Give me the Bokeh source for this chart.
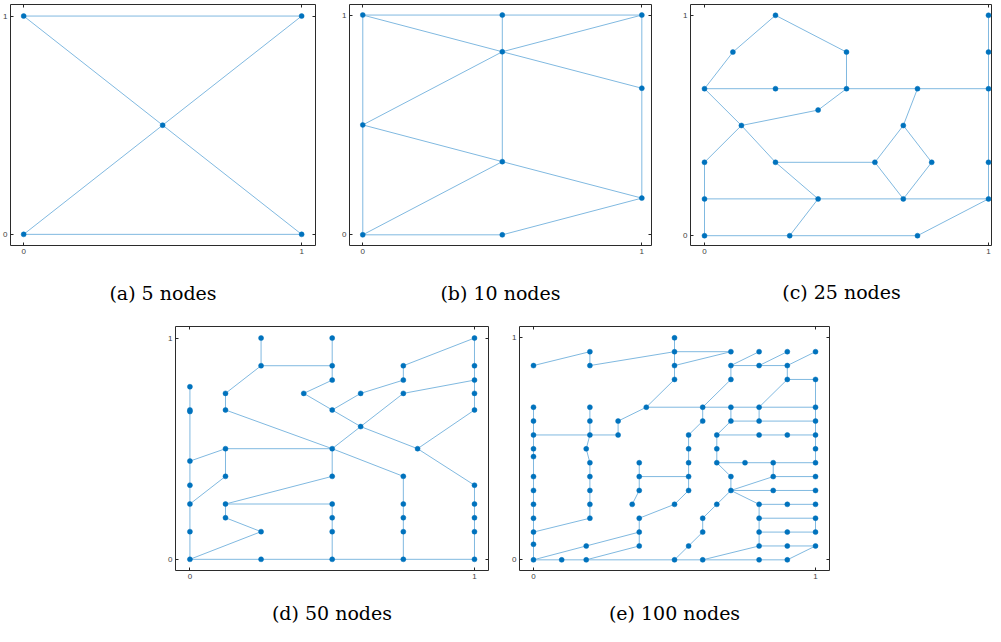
from bokeh.plotting import figure
from bokeh.models import LinearAxis, FixedTicker, Range1d, Spacer
from bokeh.layouts import row, column
from bokeh.embed import file_html
from bokeh.resources import INLINE

# ---------------- data ----------------
TICKS = [0, 1]
CAPTIONS = ["(a) 5 nodes", "(b) 10 nodes", "(c) 25 nodes", "(d) 50 nodes", "(e) 100 nodes"]

# edges given as paths through node coordinates
A_PATHS = [
    [(0, 1), (1, 1)],
    [(0, 0), (1, 0)],
    [(0, 1), (0.5, 0.5), (1, 0)],
    [(0, 0), (0.5, 0.5), (1, 1)],
]

B_PATHS = [
    [(0, 1), (0.5, 1), (1, 1)],
    [(0, 1), (0, 0.5), (0, 0)],
    [(0, 1), (0.5, 0.833), (1, 0.667)],
    [(0.5, 1), (0.5, 0.833), (0.5, 0.333)],
    [(0, 0.5), (0.5, 0.833), (1, 1)],
    [(0, 0.5), (0.5, 0.333), (1, 0.167)],
    [(0, 0), (0.5, 0.333)],
    [(0, 0), (0.5, 0), (1, 0.167)],
    [(1, 1), (1, 0.667), (1, 0.167)],
]

C_PATHS = [
    [(0, .667), (.1, .833), (.25, 1), (.5, .833), (.5, .667)],
    [(0, .667), (.25, .667), (.5, .667), (.75, .667), (1, .667)],
    [(1, 1), (1, .833), (1, .667), (1, .333), (1, .167)],
    [(.5, .667), (.4, .57), (.13, .5)],
    [(0, .667), (.13, .5), (.25, .333), (.4, .167)],
    [(.13, .5), (0, .333), (0, .167), (0, 0)],
    [(.25, .333), (.6, .333)],
    [(.6, .333), (.7, .5), (.8, .333), (.7, .167), (.6, .333)],
    [(.7, .5), (.75, .667)],
    [(0, .167), (.4, .167), (.7, .167), (1, .167)],
    [(.4, .167), (.3, 0)],
    [(0, 0), (.3, 0), (.75, 0), (1, .167)],
]

D_PATHS = [
    [(0, .78), (0, .675), (0, .668), (0, .444), (0, .335), (0, .25), (0, .125), (0, 0)],
    [(0, .444), (.125, .5), (.5, .5)],
    [(.125, .5), (.125, .375), (0, .25)],
    [(.125, .675), (.125, .75), (.25, .875), (.25, 1)],
    [(.125, .675), (.5, .5)],
    [(.25, .875), (.5, .875), (.5, 1)],
    [(.5, .875), (.5, .81), (.4, .75), (.5, .675)],
    [(.5, .675), (.6, .75), (.75, .81), (.75, .875), (1, 1)],
    [(.5, .675), (.6, .6), (.8, .5), (1, .335)],
    [(.8, .5), (1, .675)],
    [(.5, .5), (.6, .6), (.75, .75), (1, .81)],
    [(.5, .5), (.75, .375)],
    [(.5, .5), (.5, .375), (.125, .25), (.5, .25)],
    [(.125, .25), (.125, .188), (.25, .125), (0, 0)],
    [(.5, .25), (.5, .188), (.5, .125), (.5, 0)],
    [(.75, .375), (.75, .25), (.75, .188), (.75, .125), (.75, 0)],
    [(1, .335), (1, .25), (1, .188), (1, .125), (1, 0)],
    [(1, 1), (1, .875), (1, .81), (1, .75), (1, .675)],
    [(0, 0), (.25, 0), (.5, 0), (.75, 0), (1, 0)],
]

E_PATHS = [
    [(0, .875), (.2, .9375), (.2, .875), (.5, .9375)],
    [(.5, 1), (.5, .9375), (.5, .875), (.5, .8125), (.4, .6875), (.3, .625), (.3, .5625)],
    [(.5, .9375), (.7, .9375)],
    [(.5, .875), (.7, .9375)],
    [(.4, .6875), (.6, .6875), (.7, .6875), (.8, .6875), (1, .6875)],
    [(0, .5625), (.2, .5625), (.3, .5625)],
    [(0, .6875), (0, .625), (0, .5625), (0, .5), (0, .465), (0, .375), (0, .3125), (0, .25),
     (0, .1875), (0, .125), (0, .07), (0, 0)],
    [(.2, .6875), (.2, .625), (.2, .5625), (.187, .5), (.2, .4375), (.2, .375), (.2, .3125),
     (.2, .25), (.2, .1875), (0, .125)],
    [(0, 0), (.187, .0625), (.375, .125)],
    [(.187, 0), (.375, .0625)],
    [(.375, .4375), (.375, .375), (.375, .3125), (.35, .25)],
    [(.375, .0625), (.375, .125), (.375, .1875), (.5, .25), (.55, .3125), (.55, .375),
     (.55, .4375), (.55, .5), (.55, .5625), (.6, .625), (.6, .6875), (.7, .8125), (.7, .875),
     (.8, .9375)],
    [(.375, .375), (.55, .375)],
    [(.7, .875), (.8, .875), (.9, .875), (1, .9375)],
    [(.8, .875), (.9, .9375)],
    [(.9, .875), (.9, .8125), (1, .8125), (1, .6875), (1, .625), (1, .5625), (1, .5), (1, .4375)],
    [(.7, .6875), (.7, .625), (.65, .5625), (.65, .5), (.65, .4375), (.7, .375), (.7, .3125)],
    [(.7, .625), (.8, .625), (1, .625)],
    [(.8, .6875), (.9, .8125)],
    [(.8, .6875), (.8, .625)],
    [(.65, .5625), (.8, .5625), (.9, .5625), (1, .5625)],
    [(.65, .4375), (.75, .4375), (.85, .4375), (1, .4375)],
    [(.85, .4375), (.85, .375), (1, .375)],
    [(.85, .375), (.7, .3125)],
    [(.7, .3125), (.85, .3125), (1, .3125)],
    [(.7, .3125), (.8, .25), (.9, .25), (1, .25)],
    [(.7, .3125), (.65, .25), (.6, .1875), (.6, .125), (.55, .0625), (.5, 0)],
    [(.8, .25), (.8, .1875), (.8, .125), (.8, .0625)],
    [(.8, .1875), (1, .1875), (1, .125)],
    [(.8, .125), (.9, .125), (1, .125)],
    [(.8, .0625), (.9, .0625), (1, .0625)],
    [(.8, .0625), (.6, 0)],
    [(.9, 0), (1, .0625)],
    [(0, 0), (.1, 0), (.187, 0), (.5, 0), (.6, 0), (.8, 0), (.9, 0)],
]

# ---------------- style ----------------
EDGE_COLOR = "#80b9e0"
NODE_COLOR = "#0072bd"
FRAME_COLOR = "#2b2b2b"
TICK_COLOR = "#262626"
LABEL_COLOR = "#404040"
CAPTION_FONT = "DejaVu Serif"


def make_panel(paths, caption, width, height, borders, xr, yr, right_ticks=True, cap_standoff=21):
    left, right, top, bottom = borders
    p = figure(width=width, height=height, output_backend="svg", toolbar_location=None,
               x_range=Range1d(*xr), y_range=Range1d(*yr), x_axis_type=None, y_axis_type=None,
               min_border_left=left, min_border_right=right, min_border_top=top,
               min_border_bottom=bottom, title=None)
    p.outline_line_color = FRAME_COLOR
    p.outline_line_width = 1
    p.background_fill_color = "white"
    p.border_fill_color = "white"

    xs = [[pt[0] for pt in path] for path in paths]
    ys = [[pt[1] for pt in path] for path in paths]
    p.multi_line(xs, ys, line_color=EDGE_COLOR, line_width=1)
    nodes = sorted(set(pt for path in paths for pt in path))
    p.scatter([n[0] for n in nodes], [n[1] for n in nodes], size=5,
              fill_color=NODE_COLOR, line_color=NODE_COLOR, line_width=0.5)

    def style(ax, tin, tout, labels=True):
        ax.ticker = FixedTicker(ticks=TICKS)
        ax.minor_tick_line_color = None
        ax.axis_line_color = None
        ax.major_tick_in = tin
        ax.major_tick_out = tout
        ax.major_tick_line_color = TICK_COLOR
        ax.major_tick_line_width = 1
        if labels:
            ax.major_label_text_font = "Liberation Sans"
            ax.major_label_text_font_size = "8px"
            ax.major_label_text_color = LABEL_COLOR
            ax.major_label_standoff = 3
        else:
            ax.major_label_text_color = None
            ax.major_label_standoff = 0

    xb = LinearAxis()
    style(xb, 3, 0)
    xb.axis_label = caption
    xb.axis_label_text_font = CAPTION_FONT
    xb.axis_label_text_font_size = "19px"
    xb.axis_label_text_font_style = "normal"
    xb.axis_label_text_color = "black"
    xb.axis_label_standoff = cap_standoff
    p.add_layout(xb, "below")

    xt = LinearAxis(fixed_location=yr[1])
    style(xt, 0, 3, labels=False)
    p.add_layout(xt, "below")

    yl = LinearAxis()
    style(yl, 3, 0)
    p.add_layout(yl, "left")

    if right_ticks:
        yrt = LinearAxis(fixed_location=xr[1])
        style(yrt, 0, 3, labels=False)
        p.add_layout(yrt, "left")
    return p


fa = make_panel(A_PATHS, CAPTIONS[0], 332, 310, (7, 17, 1, 65),
                (-0.0474, 1.0499), (-0.0511, 1.0529), cap_standoff=25)
fb = make_panel(B_PATHS, CAPTIONS[1], 340, 310, (17, 21, 4, 65),
                (-0.0476, 1.0347), (-0.0486, 1.048), cap_standoff=25)
fc = make_panel(C_PATHS, CAPTIONS[2], 320, 310, (18, 0, 2, 63),
                (-0.0493, 1.0141), (-0.0445, 1.049), right_ticks=False, cap_standoff=24)
fd = make_panel(D_PATHS, CAPTIONS[3], 340, 316, (13, 14, 15, 54),
                (-0.0507, 1.0493), (-0.0505, 1.0523), cap_standoff=20)
fe = make_panel(E_PATHS, CAPTIONS[4], 340, 316, (17, 13, 16, 55),
                (-0.0496, 1.0496), (-0.048, 1.051), cap_standoff=20)

layout = column(row(fa, fb, fc), row(Spacer(width=162, height=316), fd, fe))

open("out.html", "w").write(file_html(layout, INLINE))
